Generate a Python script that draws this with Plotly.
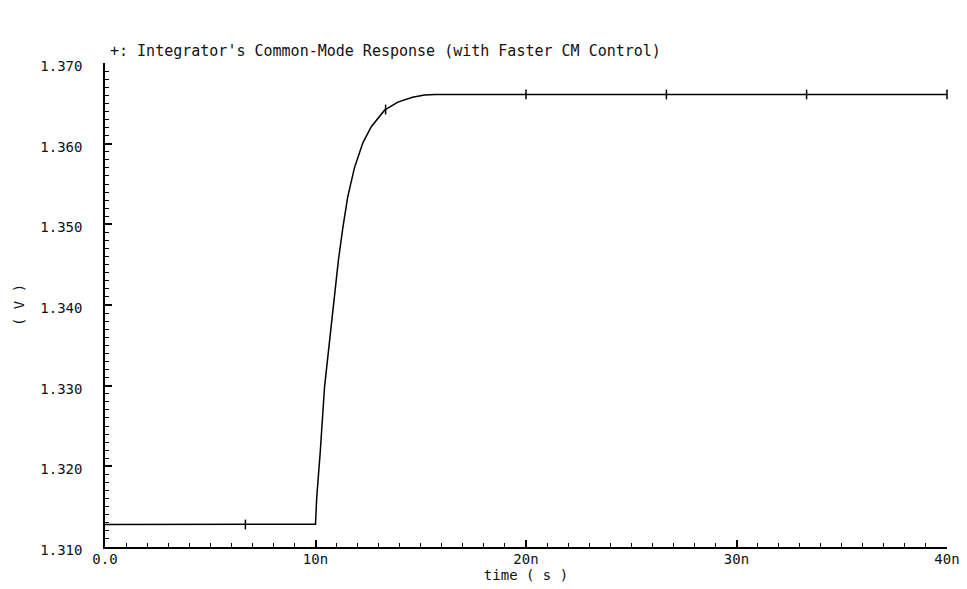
import plotly.graph_objects as go

# Integrator common-mode response (time in ns, voltage in V)
time_ns = [0.0, 10.0, 10.06, 10.22, 10.43, 10.77, 11.09, 11.30, 11.53, 11.85,
           12.25, 12.65, 13.28, 13.91, 14.61, 15.18, 15.7, 20.0, 26.67, 33.33, 40.0]
voltage = [1.31278, 1.31282, 1.31621, 1.32159, 1.32986, 1.33814, 1.34560, 1.34960,
           1.35340, 1.35700, 1.36010, 1.36210, 1.36415, 1.36515, 1.36575, 1.36603,
           1.36610, 1.36610, 1.36610, 1.36610, 1.36610]

# "+" symbol positions along the trace
marker_time_ns = [6.67, 13.33, 20.0, 26.67, 33.33, 40.0]
marker_voltage = [1.31279, 1.36423, 1.36610, 1.36610, 1.36610, 1.36610]

x_tickvals = [0, 10, 20, 30, 40]
x_ticktext = ["0.0", "10n", "20n", "30n", "40n"]
y_tickvals = [1.310, 1.320, 1.330, 1.340, 1.350, 1.360, 1.370]
y_ticktext = ["1.310", "1.320", "1.330", "1.340", "1.350", "1.360", "1.370"]

title_text = "+: Integrator's Common-Mode Response (with Faster CM Control)"

FONT = "DejaVu Sans Mono"
INK = "#111111"

fig = go.Figure()
fig.add_trace(go.Scatter(
    x=time_ns, y=voltage, mode="lines",
    line=dict(color="black", width=1.5),
    showlegend=False, hoverinfo="skip",
))
fig.add_trace(go.Scatter(
    x=marker_time_ns, y=marker_voltage, mode="markers",
    marker=dict(symbol="line-ns", size=7, line=dict(color="black", width=1.5)),
    cliponaxis=False, showlegend=False, hoverinfo="skip",
))

fig.update_layout(
    width=967, height=589,
    margin=dict(l=105, r=20, t=63, b=42),
    paper_bgcolor="white", plot_bgcolor="white",
    font=dict(family=FONT, color=INK, size=14),
    title=dict(text=title_text, x=110/967, xref="container", xanchor="left",
               y=1 - 51/589, yref="container", yanchor="middle",
               font=dict(family=FONT, size=15, color=INK)),
    xaxis=dict(
        range=[0, 40], tickvals=x_tickvals, ticktext=x_ticktext,
        showgrid=False, zeroline=False,
        showline=True, linecolor="black", linewidth=1.5, mirror=False,
        ticks="inside", ticklen=7, tickwidth=1.5, tickcolor="black",
        minor=dict(dtick=1, ticks="inside", ticklen=4, tickwidth=1, tickcolor="black", showgrid=False),
        tickfont=dict(family=FONT, size=14, color=INK),
        ticklabelstandoff=-2,
        title=dict(text="time ( s )", standoff=0, font=dict(family=FONT, size=14, color=INK)),
        automargin=False,
    ),
    yaxis=dict(
        range=[1.310, 1.370], tickvals=y_tickvals, ticktext=y_ticktext,
        showgrid=False, zeroline=False,
        showline=True, linecolor="black", linewidth=1.5, mirror=False,
        ticks="inside", ticklen=7, tickwidth=1.5, tickcolor="black",
        minor=dict(dtick=0.001, tick0=1.31, ticks="inside", ticklen=4, tickwidth=1, tickcolor="black", showgrid=False),
        tickfont=dict(family=FONT, size=14, color=INK),
        ticklabelstandoff=18, ticklabelshift=3,
        title=dict(text="( V )", standoff=12, font=dict(family=FONT, size=14, color=INK)),
        automargin=False,
    ),
)

fig.write_html("out.html")
